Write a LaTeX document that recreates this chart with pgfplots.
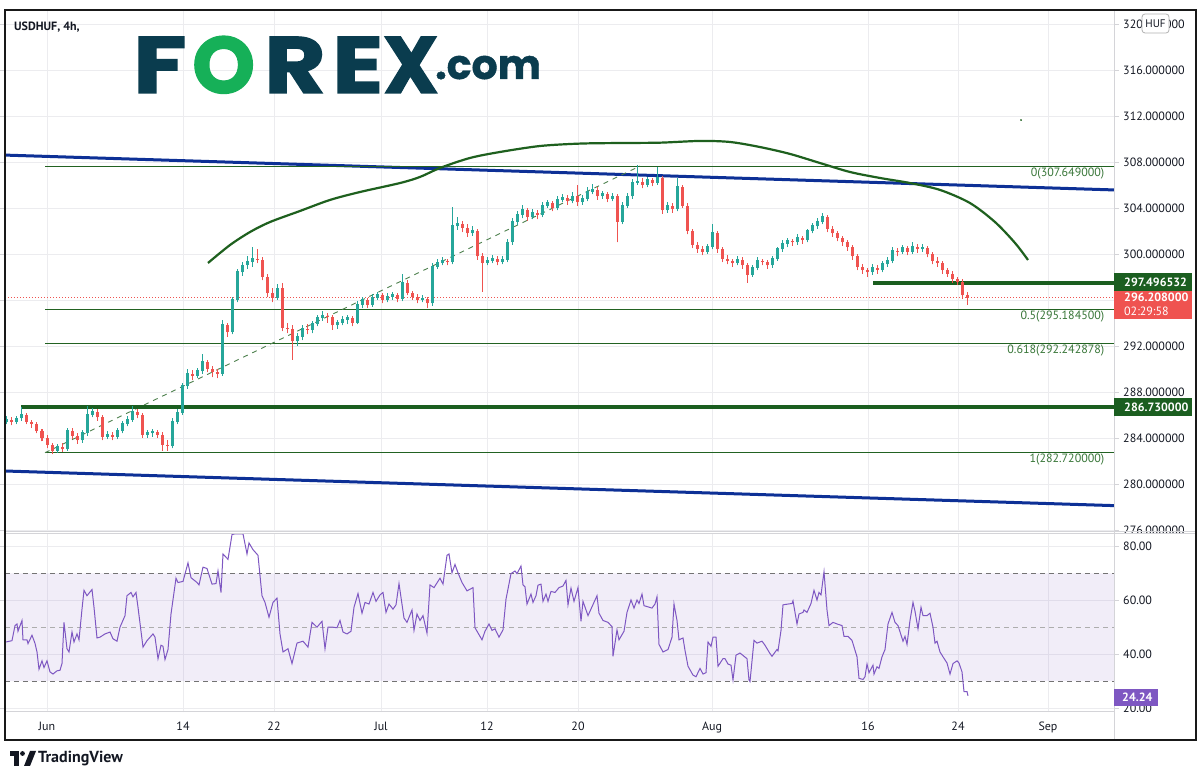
\documentclass[border=0pt]{standalone}
\usepackage{pgfplots}
\pgfplotsset{compat=1.18}
\usepackage{pgfplotstable}
\usepackage{fontspec}
\setmainfont{PT Sans}
\newfontfamily\logofont{Poppins}
\newcommand\logoL[1]{\logofont\bfseries\fontsize{80}{80}\selectfont\addfontfeatures{FakeBold=1.6}#1}
\definecolor{upc}{RGB}{38,166,154}
\definecolor{dnc}{RGB}{239,83,80}
\definecolor{fibg}{RGB}{34,98,34}
\definecolor{fibtxt}{RGB}{56,118,56}
\definecolor{thickg}{RGB}{27,94,32}
\definecolor{chan}{RGB}{13,48,150}
\definecolor{arcg}{RGB}{30,96,30}
\definecolor{rsic}{RGB}{126,87,194}
\definecolor{txt}{RGB}{19,23,34}
\definecolor{gridc}{RGB}{236,236,239}
\definecolor{sepc}{RGB}{212,212,216}
\definecolor{logod}{RGB}{10,60,78}
\definecolor{logog}{RGB}{22,176,88}

\pgfplotstableread{
x o h l c
7 285.4 285.9 285.2 285.6
12 285.6 285.8 285.1 285.4
17 285.4 285.9 285.2 285.7
22 285.7 286.7 285.5 286.0
27 286.0 286.2 285.2 285.4
32 285.4 285.6 284.9 285.2
37 285.2 285.4 284.4 284.6
42 284.6 284.8 283.7 284.0
47 284.0 284.3 283.1 283.4
52 283.4 283.6 282.6 282.9
57 282.9 283.5 282.7 283.2
62 283.2 283.6 282.8 283.0
67 283.0 284.9 282.9 284.6
72 284.6 284.9 283.9 284.2
77 284.2 284.4 283.5 283.8
82 283.8 284.7 283.6 284.4
87 284.4 286.8 284.2 286.0
92 286.0 286.6 285.8 286.3
97 286.3 286.5 285.5 285.8
102 285.8 286.0 283.8 284.1
107 284.1 284.6 283.9 284.3
112 284.3 284.5 283.8 284.1
117 284.1 284.9 283.9 284.6
122 284.6 285.5 284.4 285.2
127 285.2 285.9 285.0 285.6
132 285.6 286.8 285.4 286.3
137 286.3 286.5 285.7 286.0
142 286.0 286.2 284.0 284.3
147 284.3 284.7 284.0 284.4
152 284.4 284.8 284.1 284.5
157 284.5 284.7 284.0 284.3
162 284.3 284.5 282.9 283.4
167 283.4 283.8 282.9 283.3
172 283.3 285.7 283.1 285.4
177 285.4 286.5 285.2 286.2
182 286.2 288.8 286.0 288.5
187 288.5 290.0 288.3 289.6
192 289.6 289.9 289.0 289.4
197 289.4 290.1 289.2 289.8
202 289.8 291.3 289.6 290.6
207 290.6 290.8 289.7 290.0
212 290.0 290.3 289.3 289.7
217 289.7 290.0 289.2 289.6
222 289.6 294.3 289.4 293.8
227 293.8 294.0 292.8 293.2
232 293.2 296.3 293.0 296.0
237 296.0 298.7 295.8 298.4
242 298.4 299.3 298.1 299.0
247 299.0 299.8 298.7 299.3
252 299.3 300.6 298.9 299.6
257 299.6 300.4 299.2 299.5
262 299.5 299.7 297.7 298.0
267 298.0 298.3 296.3 296.6
272 296.6 297.0 295.8 296.2
277 296.2 297.4 296.0 297.0
282 297.0 297.5 293.3 293.6
287 293.6 294.0 293.1 293.5
292 293.5 293.8 290.8 292.4
297 292.4 293.1 292.0 292.8
302 292.8 293.8 292.5 293.5
307 293.5 293.9 293.0 293.4
312 293.4 294.2 293.1 293.9
317 293.9 294.7 293.7 294.4
322 294.4 295.0 294.2 294.6
327 294.6 294.9 294.0 294.5
332 294.5 294.7 293.4 293.8
337 293.8 294.3 293.5 294.0
342 294.0 294.6 293.8 294.3
347 294.3 294.7 293.9 294.4
352 294.4 294.6 293.7 294.0
357 294.0 295.9 293.9 295.6
362 295.6 296.3 295.3 296.0
367 296.0 296.2 295.3 295.6
372 295.6 296.5 295.4 296.2
377 296.2 296.7 296.0 296.4
382 296.4 296.6 295.7 296.0
387 296.0 296.6 295.8 296.3
392 296.3 296.7 296.0 296.4
397 296.4 296.6 295.8 296.1
402 296.1 298.3 295.9 297.5
407 297.5 297.7 296.4 296.6
412 296.6 296.8 296.0 296.3
417 296.3 296.5 295.7 296.0
422 296.0 296.4 295.8 296.1
427 296.1 296.3 295.3 295.7
432 295.7 299.2 295.5 298.9
437 298.9 299.6 298.7 299.2
442 299.2 299.7 299.0 299.4
447 299.4 299.6 299.0 299.3
452 299.3 304.1 299.1 302.4
457 302.4 303.2 302.1 302.6
462 302.6 302.9 301.9 302.3
467 302.3 302.6 301.5 301.8
472 301.8 302.4 301.6 302.0
477 302.0 302.2 299.5 299.8
482 299.8 300.1 296.7 299.2
487 299.2 299.7 299.0 299.4
492 299.4 299.9 299.2 299.6
497 299.6 299.8 299.0 299.3
502 299.3 299.8 299.1 299.5
507 299.5 301.3 299.3 301.0
512 301.0 303.1 300.8 302.8
517 302.8 303.7 302.5 303.4
522 303.4 304.3 303.1 303.8
527 303.8 304.0 302.9 303.2
532 303.2 303.9 303.0 303.6
537 303.6 303.8 303.0 303.4
542 303.4 304.5 303.2 304.2
547 304.2 304.7 304.0 304.4
552 304.4 304.6 303.7 304.0
557 304.0 305.0 303.8 304.7
562 304.7 305.2 304.5 304.9
567 304.9 305.1 304.3 304.6
572 304.6 305.4 304.4 305.0
577 305.0 306.0 304.2 304.5
582 304.5 305.1 304.3 304.8
587 304.8 305.8 304.6 305.4
592 305.4 306.1 305.2 305.6
597 305.6 305.8 304.7 305.0
602 305.0 305.5 304.8 305.2
607 305.2 305.4 304.5 304.8
612 304.8 305.3 304.6 305.0
617 305.0 305.2 301.0 302.8
622 302.8 304.5 302.6 304.2
627 304.2 305.3 304.0 305.0
632 305.0 306.5 304.8 306.2
637 306.2 307.7 306.0 306.3
642 306.3 306.6 305.7 306.0
647 306.0 306.7 305.8 306.4
652 306.4 306.6 305.9 306.2
657 306.2 307.6 306.0 306.6
662 306.6 306.8 303.5 303.8
667 303.8 304.5 303.6 304.2
672 304.2 304.4 303.6 303.9
677 303.9 306.6 303.7 305.8
682 305.8 306.0 304.0 304.2
687 304.2 304.4 301.7 302.0
692 302.0 302.2 300.5 300.8
697 300.8 301.0 300.1 300.4
702 300.4 300.7 299.9 300.2
707 300.2 300.9 300.0 300.6
712 300.6 302.6 300.4 301.8
717 301.8 302.0 300.1 300.4
722 300.4 300.6 299.3 299.6
727 299.6 299.9 299.1 299.4
732 299.4 299.6 298.9 299.2
737 299.2 299.8 299.0 299.5
742 299.5 299.7 298.7 299.0
747 299.0 299.2 297.5 298.2
752 298.2 299.0 298.0 298.8
757 298.8 299.7 298.6 299.4
762 299.4 299.6 299.0 299.3
767 299.3 299.5 298.7 299.0
772 299.0 299.8 298.8 299.6
777 299.6 300.6 299.4 300.4
782 300.4 301.2 300.2 300.9
787 300.9 301.4 300.6 301.1
792 301.1 301.3 300.7 301.0
797 301.0 301.7 300.8 301.4
802 301.4 301.6 300.9 301.2
807 301.2 302.2 301.0 302.0
812 302.0 302.7 301.8 302.4
817 302.4 303.1 302.2 302.8
822 302.8 303.6 302.6 303.2
827 303.2 303.4 301.9 302.2
832 302.2 302.4 301.5 301.8
837 301.8 302.0 301.1 301.4
842 301.4 301.6 300.7 301.0
847 301.0 301.2 300.3 300.6
852 300.6 300.8 299.5 299.8
857 299.8 300.0 298.6 298.9
862 298.9 299.1 298.3 298.6
867 298.6 298.8 298.0 298.4
872 298.4 299.1 298.2 298.8
877 298.8 299.0 298.3 298.6
882 298.6 299.4 298.4 299.1
887 299.1 299.7 298.9 299.4
892 299.4 300.6 299.2 300.3
897 300.3 300.5 299.8 300.2
902 300.2 300.8 300.0 300.5
907 300.5 300.7 299.9 300.2
912 300.2 301.0 300.0 300.6
917 300.6 300.9 300.1 300.4
922 300.4 300.9 300.2 300.5
927 300.5 300.7 299.7 300.0
932 300.0 300.2 299.1 299.4
937 299.4 299.7 298.9 299.2
942 299.2 299.4 298.3 298.6
947 298.6 298.8 298.0 298.3
952 298.3 298.5 297.5 297.8
957 297.8 298.0 297.3 297.6
962 297.6 297.8 296.1 296.4
967 296.4 296.7 295.6 296.2
}\candles

\pgfplotsset{
  tvlab/.style={font=\fontsize{12}{14}\selectfont, text=txt},
  candle/.style={only marks, mark=*, mark size=0pt, mark options={draw=none, fill=none},
    error bars/.cd, y dir=plus, y explicit, error mark=none,
    error bar style={#1}},
}

\begin{document}
\begin{tikzpicture}[x=1pt,y=1pt]
\useasboundingbox (0,0) rectangle (1203,777);
\fill[white] (0,0) rectangle (1203,777);

% ---------------- price panel ----------------
\begin{axis}[at={(5pt,245pt)}, anchor=south west, scale only axis,
  width=1109pt, height=522pt,
  xmin=5, xmax=1114, ymin=275.826, ymax=321.217, clip=false,
  axis line style={draw=none},
  xtick={47,183,274,381,487,578,712,868,958,1048}, xticklabels={},
  xtick style={draw=none},
  ytick={276,280,284,288,292,300,304,308,312,316,320},
  yticklabel pos=right,
  tick align=outside, major tick length=5pt,
  ytick style={sepc, line width=0.8pt},
  yticklabel style={tvlab, anchor=west, inner sep=0pt, xshift=4pt,
    /pgf/number format/.cd, fixed, fixed zerofill, precision=6, 1000 sep={}, assume math mode=true},
  xmajorgrids, ymajorgrids, grid style={gridc, line width=0.8pt},
  extra y ticks={296}, extra y tick labels={},
]
% channel
\addplot[chan, line width=3pt] coordinates {(5,308.6) (1114,305.57)};
\addplot[chan, line width=3pt] coordinates {(5,281.13) (1114,278.12)};
% fib
\addplot[fibg, line width=0.9pt] coordinates {(45,307.649) (1114,307.649)};
\addplot[fibg, line width=0.9pt] coordinates {(45,295.1845) (1114,295.1845)};
\addplot[fibg, line width=0.9pt] coordinates {(45,292.242878) (1114,292.242878)};
\addplot[fibg, line width=0.9pt] coordinates {(45,282.72) (1114,282.72)};
\addplot[fibg!80, line width=0.9pt, dash pattern=on 5pt off 5pt] coordinates {(45,282.72) (640,307.649)};
% current price dotted
\addplot[dnc, line width=0.9pt, dash pattern=on 1pt off 2pt] coordinates {(5,296.208) (1114,296.208)};
% thick levels
\addplot[thickg, line width=4pt] coordinates {(21,286.73) (1114,286.73)};
\addplot[thickg, line width=4pt] coordinates {(873,297.496532) (1114,297.496532)};
% arc
\addplot[arcg, line width=2.2pt, smooth] coordinates {
(208,299.22) (230,300.78) (250,301.91) (270,302.78) (300,303.74) (330,304.70)
(360,305.39) (400,306.17) (420,306.70) (440,307.48) (470,308.35) (500,308.87)
(540,309.39) (580,309.60) (620,309.65) (660,309.68) (700,309.83) (730,309.74)
(760,309.30) (790,308.70) (820,307.91) (850,307.13) (880,306.61) (910,306.17)
(940,305.57) (970,304.43) (995,302.78) (1015,300.96) (1028,299.48)};
\addplot[arcg, only marks, mark=*, mark size=0.7pt] coordinates {(1021,311.65)};
% candles: wicks
\addplot[candle={upc, line width=1pt}]
  table[x=x, y expr={\thisrow{c}>=\thisrow{o} ? \thisrow{l} : nan}, y error plus expr={\thisrow{h}-\thisrow{l}}] {\candles};
\addplot[candle={dnc, line width=1pt}]
  table[x=x, y expr={\thisrow{c}<\thisrow{o} ? \thisrow{l} : nan}, y error plus expr={\thisrow{h}-\thisrow{l}}] {\candles};
% candles: bodies
\addplot[candle={upc, line width=3pt}]
  table[x=x, y expr={\thisrow{c}>=\thisrow{o} ? \thisrow{o} : nan}, y error plus expr={\thisrow{c}-\thisrow{o}+0.08}] {\candles};
\addplot[candle={dnc, line width=3pt}]
  table[x=x, y expr={\thisrow{c}<\thisrow{o} ? \thisrow{c} : nan}, y error plus expr={\thisrow{o}-\thisrow{c}}] {\candles};
% fib labels
\node[anchor=north east, inner sep=1.5pt, text=fibtxt, font=\fontsize{12}{14}\selectfont] at (axis cs:1106,307.649) {0(307.649000)};
\node[anchor=north east, inner sep=1.5pt, text=fibtxt, font=\fontsize{12}{14}\selectfont] at (axis cs:1106,295.1845) {0.5(295.184500)};
\node[anchor=north east, inner sep=1.5pt, text=fibtxt, font=\fontsize{12}{14}\selectfont] at (axis cs:1106,292.242878) {0.618(292.242878)};
\node[anchor=north east, inner sep=1.5pt, text=fibtxt, font=\fontsize{12}{14}\selectfont] at (axis cs:1106,282.72) {1(282.720000)};
\end{axis}

% hide lower half of cut label
\fill[white] (1115,232) rectangle (1195,244);

% ---------------- RSI panel ----------------
\begin{axis}[at={(5pt,65pt)}, anchor=south west, scale only axis,
  width=1109pt, height=179pt,
  xmin=5, xmax=1114, ymin=18.5, ymax=84.99, clip=false,
  axis line style={draw=none},
  xtick={47,183,274,381,487,578,712,868,958,1048},
  xticklabels={Jun,14,22,Jul,12,20,Aug,16,24,Sep},
  xtick style={draw=none},
  xticklabel style={tvlab, anchor=north, inner sep=0pt, yshift=-5pt},
  ytick={20,40,60,80},
  yticklabel pos=right,
  tick align=outside, major tick length=5pt,
  ytick style={sepc, line width=0.8pt},
  yticklabel style={tvlab, anchor=west, inner sep=0pt, xshift=4pt,
    /pgf/number format/.cd, fixed, fixed zerofill, precision=2, 1000 sep={}, assume math mode=true},
  xmajorgrids, ymajorgrids, grid style={gridc, line width=0.8pt},
]
\addplot[fill=rsic, fill opacity=0.1, draw=none] coordinates {(5,30) (1114,30) (1114,70) (5,70) (5,30)};
\addplot[black!55, line width=0.9pt, dash pattern=on 5pt off 4pt] coordinates {(5,70) (1114,70)};
\addplot[black!32, line width=0.9pt, dash pattern=on 5pt off 4pt] coordinates {(5,50) (1114,50)};
\addplot[black!55, line width=0.9pt, dash pattern=on 5pt off 4pt] coordinates {(5,30) (1114,30)};
\addplot[rsic, line width=1pt] coordinates {
(6,44.5) (12,45) (15,50.6) (17,51.2) (18,48.5) (22,52.5) (23,45.3) (27,45.3) (28,43.9) (32,47)
(35,44) (37,40.8) (39,34.4) (42,37.5) (44,35) (47,37.5) (50,33.4) (53,32.6) (57,33.8) (60,34)
(62,36.5) (64,51.8) (67,42) (69,40.8) (72,48.2) (74,44.5) (77,47.5) (79,45.3) (82,56.7) (84,63.7)
(87,61.7) (92,64) (94,57.4) (97,46) (100,46.3) (105,47.5) (110,48.2) (113,45.7) (117,44.8) (120,50)
(125,54.3) (127,61.7) (131,62.9) (133,61.3) (136,62.9) (138,57.4) (143,42.6) (147,45) (153,47.5) (155,46.3)
(158,38.3) (161,43.3) (163,42.9) (165,38) (168,41.7) (171,54.9) (176,68.2) (178,66.6) (183,67) (188,73.9)
(191,68.4) (197,66.6) (199,65.7) (203,72.3) (207,71.8) (212,66) (216,66.2) (218,70.9) (221,62.9) (223,77.2)
(228,75.2) (232,84.4) (235,84.7) (243,84.7) (247,77.2) (249,81.3) (253,78.8) (258,76.7) (262,61.7) (265,59.2)
(269,53.7) (273,59.2) (277,60.8) (280,47.5) (283,40.8) (288,42) (292,36.5) (297,44.1) (303,44.8) (308,42.6)
(312,51.8) (317,50) (322,52.2) (325,42) (328,50) (333,50) (337,49.8) (340,52.5) (343,48.2) (347,47.5)
(351,48.5) (354,57.4) (358,62.5) (362,55.2) (365,59.2) (369,58.6) (373,62.9) (376,59.6) (380,62) (383,62.9)
(386,55.5) (389,58.6) (393,56.7) (396,58.3) (399,66.2) (404,53.4) (407,51.8) (412,56.4) (414,48.8) (417,54.9)
(420,52.5) (423,54.3) (427,47.8) (430,65.7) (434,64.7) (440,68.2) (443,66) (447,76.7) (449,77.2) (452,70.2)
(455,73.3) (458,70.2) (462,66.6) (467,63.5) (473,64.7) (475,49.8) (482,45.3) (485,48.5) (489,51.2) (492,48.8)
(495,49.4) (499,46.3) (503,49) (506,60.4) (511,69.9) (515,70.9) (517,69.9) (521,72.7) (523,65.7) (525,65)
(527,58.6) (531,62.3) (533,59.2) (536,61.7) (538,65.6) (541,66) (543,59.6) (546,62.3) (548,59.6) (551,63.3)
(555,62.9) (559,64.7) (563,65.3) (566,67.4) (568,58.3) (571,64.5) (574,59.6) (578,64.7) (581,52.2) (583,59.6)
(588,54.3) (597,61.7) (599,55.2) (603,52.5) (608,51.8) (612,50.2) (613,39.2) (617,49) (619,45.3) (624,48.5)
(627,55.5) (631,60.1) (634,57.1) (637,60.1) (639,58.8) (642,62.3) (644,58) (652,57.1) (655,58.6) (657,61.3)
(659,43.6) (663,40.8) (668,41.7) (672,46.3) (674,58.6) (677,52.5) (679,45.3) (683,46) (685,41.4) (688,35.5)
(693,32.2) (696,31.6) (700,34.7) (703,32.6) (706,33.1) (708,44.5) (711,42.9) (713,46.3) (716,46.3) (718,35.5)
(723,38.3) (725,38.3) (728,36.3) (731,35.9) (733,30.4) (736,39.6) (740,40.4) (747,38.3) (749,30.4) (750,29.8)
(754,45.1) (757,44.1) (762,44.8) (765,43.3) (770,40.2) (772,39.2) (777,41.7) (778,41.2) (781,48.8) (783,58.3)
(788,58.6) (792,58.8) (793,59.8) (797,51.2) (799,54.9) (803,55.5) (804,56.4) (807,55.5) (811,58.8) (814,63.7)
(817,60.1) (819,62.9) (821,62) (824,70.6) (827,56.4) (829,50.6) (833,51.8) (837,51.2) (842,50.6) (844,46.6)
(848,46.6) (852,45.1) (857,39) (859,31) (863,30.6) (865,31.6) (867,36.3) (869,33.1) (873,35.9) (874,32.6)
(877,35.3) (879,34.7) (882,39) (885,41.7) (888,51.2) (892,55.5) (895,51.8) (898,50.6) (903,44.8) (905,46.6)
(907,43.6) (910,52.5) (913,59.2) (915,55.9) (918,49.4) (921,57.4) (923,54.3) (927,54.3) (930,55.2) (933,50)
(935,44.1) (937,44.8) (940,40.8) (943,39) (947,36.7) (950,32.6) (953,36.5) (957,37.5) (959,36.7) (962,33.4)
(964,26.1) (967,26.1) (968,24.5)};
\end{axis}

\fill[white] (1115,55) rectangle (1195,64.5);

% separators and frame
\draw[sepc, line width=1pt] (1114,37) -- (1114,767);
\draw[sepc, line width=1pt] (5,245) -- (1196,245);
\draw[sepc, line width=1pt] (5,243) -- (1196,243);
\draw[sepc, line width=1pt] (5,65) -- (1114,65);
\draw[black!90, line width=1.6pt] (5,37) rectangle (1196,767);

% right price boxes
\fill[dnc] (1114,458) rectangle (1192,488);
\node[anchor=west, inner sep=0pt, text=white, font=\fontsize{12}{14}\selectfont\bfseries] at (1124,480) {296.208000};
\node[anchor=west, inner sep=0pt, text=white, font=\fontsize{12}{14}\selectfont] at (1124,465.5) {02:29:58};
\fill[thickg] (1114,486) rectangle (1192,504);
\node[anchor=west, inner sep=0pt, text=white, font=\fontsize{12}{14}\selectfont\bfseries] at (1124,495) {297.496532};
\fill[thickg] (1114,361) rectangle (1192,379);
\node[anchor=west, inner sep=0pt, text=white, font=\fontsize{12}{14}\selectfont\bfseries] at (1124,370) {286.730000};
\fill[rsic] (1114,71) rectangle (1158,88);
\node[anchor=west, inner sep=0pt, text=white, font=\fontsize{12}{14}\selectfont\bfseries] at (1122,79.5) {24.24};
% HUF box
\draw[black!30, fill=white, rounded corners=3pt, line width=0.8pt] (1142,744) rectangle (1169,763);
\node[text=txt, font=\fontsize{11}{13}\selectfont] at (1155.5,753.5) {HUF};

% titles
\node[anchor=west, inner sep=0pt, text=txt, font=\fontsize{12}{14}\selectfont\bfseries] at (14,750) {USDHUF, 4h,};
% FOREX.com logo
\node[anchor=base west, inner sep=0pt, text=logod] at (133,684) {\logoL{\scalebox{1.22}[1]{F}}};
\node[anchor=base west, inner sep=0pt, text=logog] at (192,684) {\logoL{\scalebox{1.0}[1]{O}}};
\node[anchor=base west, inner sep=0pt, text=logod] at (264,684) {\logoL{\scalebox{1.18}[1]{R}}};
\node[anchor=base west, inner sep=0pt, text=logod] at (332,684) {\logoL{\scalebox{1.18}[1]{E}}};
\node[anchor=base west, inner sep=0pt, text=logod] at (383,684) {\logoL{\scalebox{0.97}[1]{X}}};
\node[anchor=base west, inner sep=0pt, text=logod, font=\logofont\bfseries\fontsize{41}{41}\selectfont] at (435,698) {\addfontfeatures{FakeBold=1}.com};

% TradingView logo
\fill[txt] (10,26) rectangle (19,21);
\fill[txt] (14,26) rectangle (19,11);
\fill[txt] (22.5,23.5) circle (2.4);
\fill[txt] (24,11) -- (30,26) -- (36,26) -- (30,11) -- cycle;
\node[anchor=west, inner sep=0pt, text=txt, font=\fontsize{16}{18}\selectfont\bfseries] at (38,18.5) {TradingView};
\end{tikzpicture}
\end{document}
